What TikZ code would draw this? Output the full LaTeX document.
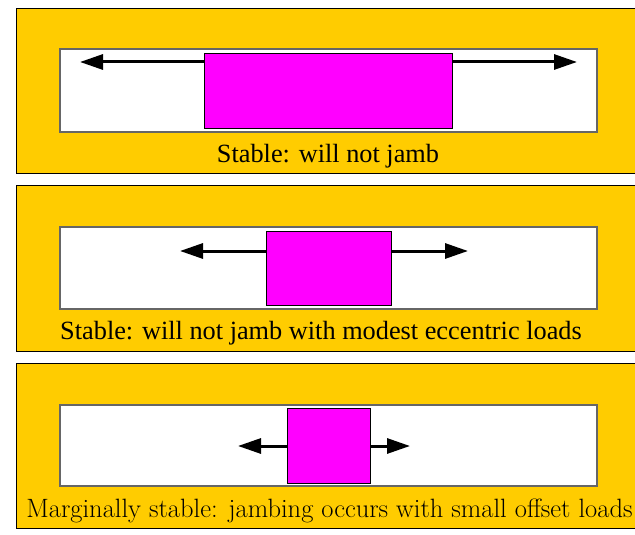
\documentclass[tikz,border=0pt]{standalone}
\usepackage{fontspec}
\newfontfamily\capfont{Liberation Serif}
\usetikzlibrary{arrows.meta}
\definecolor{panelyellow}{HTML}{FFCC00}
\definecolor{blockmagenta}{HTML}{FF00FF}

\begin{document}
\begin{tikzpicture}[x=1pt,y=-1pt,>={Triangle[length=23pt,width=15pt]},
  panel/.style={draw=black,line width=.8pt,fill=panelyellow},
  slot/.style={draw=black!60,line width=1.2pt,fill=white},
  block/.style={draw=black,line width=.8pt,fill=blockmagenta,inner sep=0pt},
  push/.style={->,line width=3pt},
  caption/.style={anchor=base,font=\capfont\fontsize{26.3}{30}\selectfont}]
\useasboundingbox (0,0) rectangle (635,535);
% panels
\draw[panel] (16,8) rectangle (645,173);
\draw[panel] (16,185) rectangle (645,351);
\draw[panel] (16,363) rectangle (645,528);
% slots
\draw[slot] (60,49) rectangle (597,132);
\draw[slot] (60,227) rectangle (597,309);
\draw[slot] (60,405) rectangle (597,486);
% blocks
\node[block,minimum width=248pt,minimum height=75pt] (blk1) at (328,90.5) {};
\node[block,minimum width=125pt,minimum height=74pt] (blk2) at (328.5,268) {};
\node[block,minimum width=83pt,minimum height=75pt] (blk3) at (328.5,445.5) {};
% loads
\coordinate (l1) at (80,62);
\coordinate (r1) at (577,62);
\coordinate (l2) at (180,251);
\coordinate (r2) at (468,251);
\coordinate (l3) at (238,446);
\coordinate (r3) at (410,446);
\draw[push] (blk1.west |- l1) -- (l1);
\draw[push] (blk1.east |- r1) -- (r1);
\draw[push] (blk2.west |- l2) -- (l2);
\draw[push] (blk2.east |- r2) -- (r2);
\draw[push] (blk3.west |- l3) -- (l3);
\draw[push] (blk3.east |- r3) -- (r3);
% captions
\node[caption] (cap1) at (328,162) {Stable: will not jamb};
\node[caption] (cap2) at (321,339) {Stable: will not jamb with modest eccentric loads};
\node[anchor=base,font=\fontsize{26.5}{30}\selectfont] (cap3) at (329.5,517) {Marginally stable: jambing occurs with small offset loads};
\end{tikzpicture}
\end{document}
